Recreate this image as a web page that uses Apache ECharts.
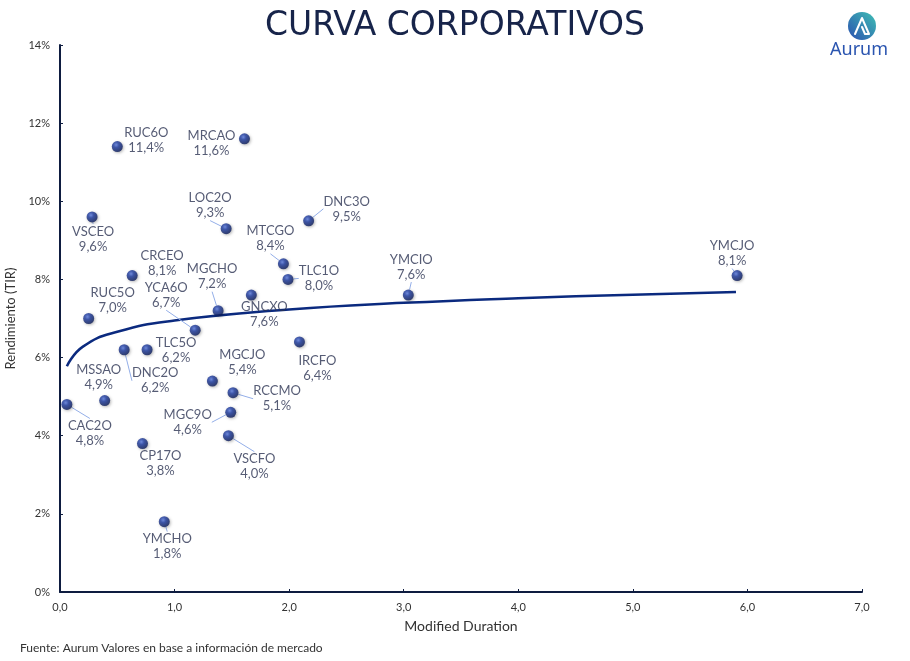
<!DOCTYPE html>
<html>
<head>
<meta charset="utf-8">
<script src="https://cdn.jsdelivr.net/npm/echarts@6/dist/echarts.min.js"></script>
<style>
  html, body { margin: 0; padding: 0; background: #fff; }
  #chart { width: 910px; height: 661px; }
</style>
</head>
<body>
<div id="chart"></div>
<script>
// bonos corporativos: nombre, duracion modificada, TIR (%)
var names = ['RUC6O', 'MRCAO', 'VSCEO', 'LOC2O', 'DNC3O', 'CRCEO', 'MTCGO', 'TLC1O', 'GNCXO', 'MGCHO',
             'YCA6O', 'RUC5O', 'YMCIO', 'YMCJO', 'TLC5O', 'DNC2O', 'IRCFO', 'MGCJO', 'RCCMO', 'MSSAO',
             'CAC2O', 'MGC9O', 'VSCFO', 'CP17O', 'YMCHO'];
var duration = [0.50, 1.61, 0.28, 1.45, 2.17, 0.63, 1.95, 1.99, 1.67, 1.38,
                1.18, 0.25, 3.04, 5.91, 0.76, 0.56, 2.09, 1.33, 1.51, 0.39,
                0.06, 1.49, 1.47, 0.72, 0.91];
var tir = [11.4, 11.6, 9.6, 9.3, 9.5, 8.1, 8.4, 8.0, 7.6, 7.2,
           6.7, 7.0, 7.6, 8.1, 6.2, 6.2, 6.4, 5.4, 5.1, 4.9,
           4.8, 4.6, 4.0, 3.8, 1.8];

// curva de tendencia
var trendX = [0.06, 0.2, 0.5, 1.0, 2.0, 3.0, 4.0, 5.0, 5.9];
var trendY = [5.78, 6.28, 6.66, 6.95, 7.23, 7.40, 7.52, 7.61, 7.68];

var yTicks = [0, 2, 4, 6, 8, 10, 12, 14];

// desplazamiento de cada etiqueta (px) y si lleva linea guia
var labelOffsets = [[29, -6], [-33, 5], [1, 22], [-16, -23], [38, -12], [30, -12], [-13, -25], [31, -1], [13, 19], [-6, -34],
                    [-29, -35], [24, -18], [3, -28], [-5, -22], [29, 1], [31, 31], [18, 26], [30, -19], [44, 6], [-6, -23],
                    [23, 29], [-43, 10], [26, 31], [18, 20], [3, 25]];
var withLine = ['LOC2O', 'DNC3O', 'MTCGO', 'TLC1O', 'MGCHO', 'YCA6O', 'YMCIO', 'YMCJO', 'DNC2O', 'RCCMO', 'CAC2O', 'MGC9O', 'VSCFO', 'VSCEO', 'YMCHO'];

function fmt(v) { return v.toFixed(1).replace('.', ',') + '%'; }

var points = names.map(function (n, i) {
    return {
        name: n,
        value: [duration[i], tir[i]],
        labelLine: { show: withLine.indexOf(n) >= 0 }
    };
});
var trend = trendX.map(function (x, i) { return [x, trendY[i]]; });

var txt = '#2c3352';
var axisCol = '#0e1c40';

var chart = echarts.init(document.getElementById('chart'));
chart.setOption({
    animation: false,
    textStyle: { fontFamily: 'Lato, "Noto Sans", sans-serif' },
    title: {
        text: 'CURVA CORPORATIVOS',
        left: 'center',
        top: 5,
        textStyle: { fontSize: 33, fontWeight: 'normal', color: '#17244a', fontFamily: '"DejaVu Sans", sans-serif' }
    },
    grid: { left: 60, right: 48, top: 45, bottom: 69, outerBoundsMode: 'none', containLabel: false },
    xAxis: {
        type: 'value', min: 0, max: 7, interval: 1,
        name: 'Modified Duration', nameLocation: 'middle', nameGap: 27,
        nameTextStyle: { fontSize: 14, color: '#333' },
        axisLine: { lineStyle: { color: axisCol, width: 2 } },
        axisTick: { inside: true, length: 3, lineStyle: { color: axisCol } },
        splitLine: { show: false },
        axisLabel: { fontSize: 11, color: '#333', margin: 10, formatter: function (v) { return v.toFixed(1).replace('.', ','); } }
    },
    yAxis: {
        type: 'value', min: yTicks[0], max: yTicks[yTicks.length - 1], interval: 2,
        name: 'Rendimiento (TIR)', nameLocation: 'middle', nameGap: 40,
        nameTextStyle: { fontSize: 13, color: '#333' },
        axisLine: { show: true, lineStyle: { color: axisCol, width: 2 } },
        axisTick: { show: true, inside: true, length: 3, lineStyle: { color: axisCol } },
        splitLine: { show: false },
        axisLabel: { fontSize: 11, color: '#333', margin: 10, formatter: '{value}%' }
    },
    series: [{
        type: 'line',
        data: trend,
        smooth: true,
        showSymbol: false,
        z: 1,
        lineStyle: { color: '#0b2a7f', width: 2.5 }
    }, {
        type: 'scatter',
        data: points,
        symbolSize: 11,
        z: 3,
        itemStyle: {
            color: {
                type: 'radial', x: 0.4, y: 0.35, r: 0.7,
                colorStops: [{ offset: 0, color: '#5a7be0' }, { offset: 0.35, color: '#1c3aa0' }, { offset: 1, color: '#0a1850' }]
            },
            shadowBlur: 3, shadowColor: 'rgba(0,0,0,0.35)', shadowOffsetX: 1, shadowOffsetY: 1
        },
        label: {
            show: true,
            position: 'inside',
            fontSize: 13,
            lineHeight: 15,
            color: txt,
            align: 'center',
            formatter: function (p) { return p.name + '\n' + fmt(p.value[1]); }
        },
        labelLine: { show: false, lineStyle: { color: '#93aee8', width: 1 } },
        labelLayout: function (p) {
            var o = labelOffsets[p.dataIndex];
            return { dx: o[0], dy: o[1] };
        }
    }],
    graphic: [
        {
            type: 'circle', shape: { cx: 862, cy: 26, r: 14 },
            style: { fill: new echarts.graphic.LinearGradient(1, 0, 0, 1, [{ offset: 0, color: '#3fc0b4' }, { offset: 1, color: '#2a4fb0' }]) }
        },
        {
            type: 'polyline', shape: { points: [[855, 34], [862, 18], [869, 34], [865, 34], [862, 27]] },
            style: { stroke: '#fff', lineWidth: 2, fill: null, lineJoin: 'round', lineCap: 'round' }
        },
        {
            type: 'text', left: 830, top: 41,
            style: { text: 'Aurum', fontSize: 18, fill: '#2b55b0', fontFamily: '"Noto Sans", sans-serif' }
        },
        {
            type: 'text', left: 20, top: 642,
            style: { text: 'Fuente: Aurum Valores en base a información de mercado', fontSize: 12, fill: '#333', fontFamily: 'Lato, sans-serif' }
        }
    ]
});
</script>
</body>
</html>
